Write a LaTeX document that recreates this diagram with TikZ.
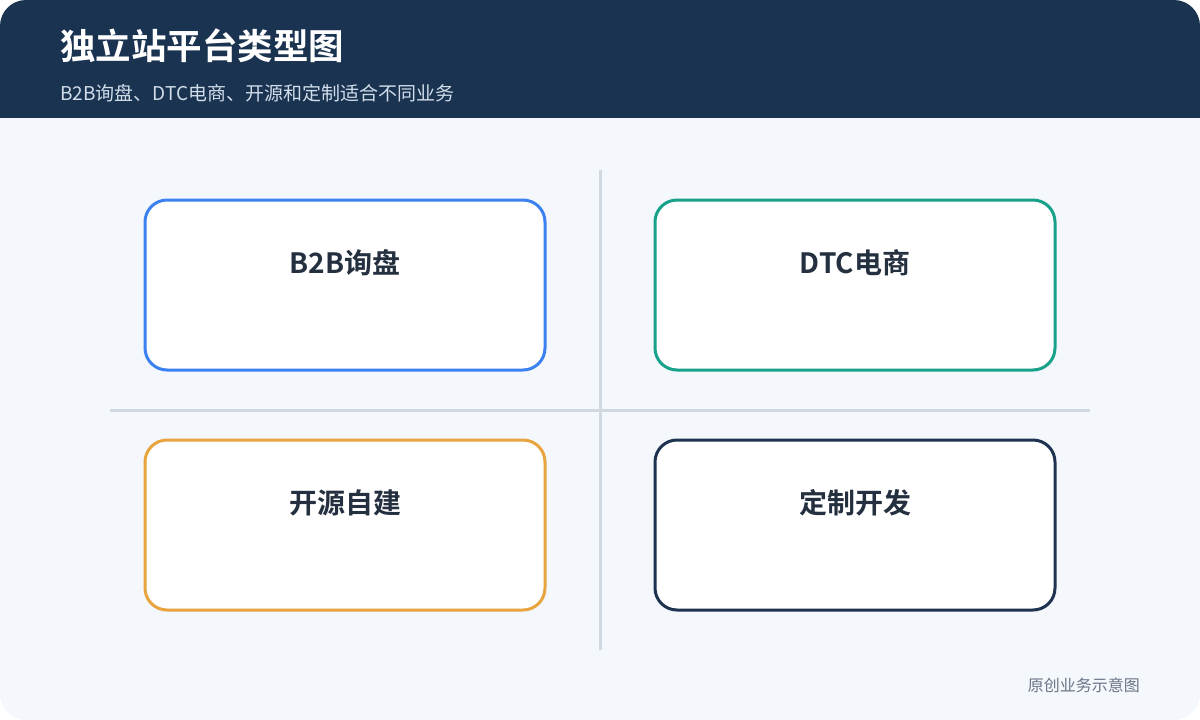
\documentclass[tikz,border=0pt]{standalone}
\usepackage{fontspec}
\setmainfont{Noto Sans CJK SC}
\newfontfamily\cjk{Noto Sans CJK SC}
\newfontfamily\cjkb{Noto Sans CJK SC Bold}
\definecolor{navy}{HTML}{1A3350}
\definecolor{bodybg}{HTML}{F4F7FC}
\definecolor{sub}{HTML}{D2DDEB}
\definecolor{cblue}{HTML}{3B82F0}
\definecolor{cteal}{HTML}{17A08A}
\definecolor{corange}{HTML}{E8A43E}
\definecolor{cnavy}{HTML}{1E3350}
\definecolor{divc}{HTML}{D0D8E2}
\definecolor{lbl}{HTML}{243040}
\definecolor{foot}{HTML}{6B7585}
\tikzset{
  card/.style={draw=#1, line width=3pt, fill=white, rounded corners=22pt, minimum width=400pt, minimum height=170pt, inner sep=0pt},
  cardlabel/.style={font=\cjkb\fontsize{28}{32}\selectfont, text=lbl, anchor=center},
  divider/.style={draw=divc, line width=3pt}
}
\begin{document}
\begin{tikzpicture}[x=1pt,y=-1pt]
\useasboundingbox (0,0) rectangle (1200,720);
\fill[white] (0,0) rectangle (1200,720);
\fill[bodybg, rounded corners=26pt] (0,0) rectangle (1200,720);
\begin{scope}
\clip[rounded corners=26pt] (0,0) rectangle (1200,720);
\fill[navy] (0,0) rectangle (1200,118);
\end{scope}
\node[anchor=base west, text=white, font=\cjkb\fontsize{35.5}{40}\selectfont, inner sep=0pt] (title) at (60,59) {独立站平台类型图};
\node[anchor=base west, text=sub, font=\cjk\fontsize{19}{22}\selectfont, inner sep=0pt] (subtitle) at (60,100) {B2B询盘、DTC电商、开源和定制适合不同业务};
% dividers
\coordinate (vt) at (600,170);
\coordinate (vb) at (600,650);
\coordinate (hl) at (110,410);
\coordinate (hr) at (1090,410);
\draw[divider] (vt) -- (vb);
\draw[divider] (hl) -- (hr);
% cards
\node[card=cblue] (c1) at (345,285) {};
\node[card=cteal] (c2) at (855,285) {};
\node[card=corange] (c3) at (345,525) {};
\node[card=cnavy] (c4) at (855,525) {};
\node[cardlabel] (l1) at (345,263) {B2B询盘};
\node[cardlabel] (l2) at (855,263) {DTC电商};
\node[cardlabel] (l3) at (345,503) {开源自建};
\node[cardlabel] (l4) at (855,503) {定制开发};
\node[anchor=east, text=foot, font=\cjk\fontsize{16}{19}\selectfont, inner sep=0pt] (footer) at (1140,685) {原创业务示意图};
\end{tikzpicture}
\end{document}
